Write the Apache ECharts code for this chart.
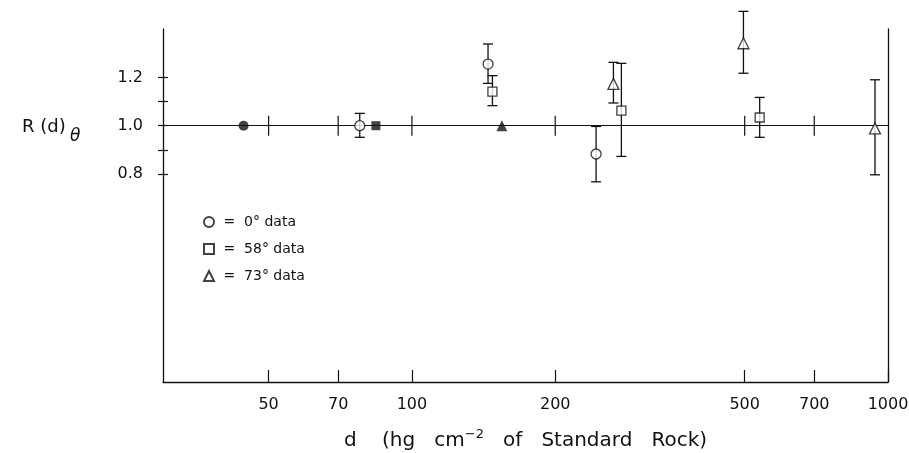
<!DOCTYPE html>
<html>
<head>
<meta charset="utf-8">
<script src="https://cdn.jsdelivr.net/npm/echarts@6/dist/echarts.min.js"></script>
<style>html,body{margin:0;background:#fff}#main{width:909px;height:453px}</style>
</head>
<body>
<div id="main"></div>
<script>
// open points with error bars: [d, R, low, high]
const data0 = [[77.7, 1.0, 0.952, 1.051], [144.5, 1.255, 1.175, 1.338], [243.7, 0.883, 0.768, 0.997]];
const data58 = [[147.6, 1.141, 1.083, 1.207], [275.4, 1.062, 0.873, 1.258], [537.6, 1.034, 0.952, 1.117]];
const data73 = [[265, 1.173, 1.094, 1.262], [497, 1.341, 1.217, 1.473], [939, 0.989, 0.797, 1.19]];
// filled points sitting on R = 1
const ref0 = [[44.3, 1.0]];
const ref58 = [[84, 1.0]];
const ref73 = [[154.5, 1.0]];
const xTicks = [50, 70, 100, 200, 500, 700, 1000];
const lineTicks = [50, 70, 100, 200, 500, 700];
const yTicks = [0.8, 0.9, 1.0, 1.1, 1.2];
const yLabels = [0.8, 1.0, 1.2];

const ink = '#111';
const font = 'DejaVu Sans';
const myChart = echarts.init(document.getElementById('main'));

function errorBar(params, api) {
  const x = api.value(0);
  const lo = api.coord([x, api.value(2)]);
  const hi = api.coord([x, api.value(3)]);
  const w = 5;
  const style = { stroke: ink, lineWidth: 1.3 };
  return {
    type: 'group',
    children: [
      { type: 'line', shape: { x1: lo[0], y1: lo[1], x2: hi[0], y2: hi[1] }, style: style },
      { type: 'line', shape: { x1: lo[0] - w, y1: lo[1], x2: lo[0] + w, y2: lo[1] }, style: style },
      { type: 'line', shape: { x1: hi[0] - w, y1: hi[1], x2: hi[0] + w, y2: hi[1] }, style: style }
    ]
  };
}

function crossTick(params, api) {
  const p = api.coord([api.value(0), api.value(1)]);
  return { type: 'line', shape: { x1: p[0], y1: p[1] - 10, x2: p[0], y2: p[1] + 10 }, style: { stroke: ink, lineWidth: 1.2 } };
}

function bars(d) {
  return { type: 'custom', renderItem: errorBar, data: d, clip: false, silent: true, z: 2 };
}
function open(name, symbol, size, d) {
  return {
    name: name, type: 'scatter', data: d.map(function (r) { return [r[0], r[1]]; }),
    symbol: symbol, symbolSize: size, silent: true, z: 5,
    itemStyle: { color: '#fff', borderColor: ink, borderWidth: 1.3 }
  };
}
function filled(symbol, size, d) {
  return { type: 'scatter', data: d, symbol: symbol, symbolSize: size, silent: true, z: 5, itemStyle: { color: ink } };
}

const yBase = { type: 'value', min: -0.06, max: 1.4, splitLine: { show: false } };

const option = {
  animation: false,
  grid: { left: 163, right: 21, top: 29, bottom: 71, containLabel: false, outerBoundsMode: 'none' },
  legend: {
    orient: 'vertical', left: 198, top: 210, itemGap: 13, itemWidth: 10, itemHeight: 10,
    data: ['0° data', '58° data', '73° data'],
    formatter: function (n) { return ' =  ' + n; },
    textStyle: { fontFamily: font, fontSize: 14, color: ink }
  },
  xAxis: {
    type: 'log', logBase: 10, min: 30, max: 1000,
    axisLine: { onZero: false, lineStyle: { color: ink, width: 1.3 } },
    axisTick: { inside: true, length: 12, customValues: xTicks, lineStyle: { color: ink, width: 1.2 } },
    axisLabel: { customValues: xTicks, margin: 15, fontFamily: font, fontSize: 16, color: ink,
      formatter: function (v) { return String(Math.round(v)); } },
    splitLine: { show: false },
    minorTick: { show: false },
    name: 'd    (hg   cm{sup|−2}   of   Standard   Rock)',
    nameLocation: 'middle', nameGap: 46,
    nameTextStyle: {
      fontFamily: font, fontSize: 20, color: ink,
      rich: { sup: { fontFamily: font, fontSize: 13, color: ink, padding: [0, 0, 12, 0] } }
    }
  },
  yAxis: [
    Object.assign({}, yBase, {
      position: 'left',
      axisLine: { show: true, lineStyle: { color: ink, width: 1.3 } },
      axisTick: { show: true, inside: false, length: 5, customValues: yTicks, lineStyle: { color: ink, width: 1.2 } },
      axisLabel: { customValues: yLabels, margin: 20, fontFamily: font, fontSize: 16, color: ink,
        formatter: function (v) { return v.toFixed(1); } }
    }),
    Object.assign({}, yBase, {
      position: 'left',
      axisLine: { show: false },
      axisTick: { show: true, inside: true, length: 5, customValues: yTicks, lineStyle: { color: ink, width: 1.2 } },
      axisLabel: { show: false }
    }),
    Object.assign({}, yBase, {
      position: 'right',
      axisLine: { show: true, lineStyle: { color: ink, width: 1.3 } },
      axisTick: { show: false },
      axisLabel: { show: false }
    })
  ],
  graphic: [
    { type: 'text', left: 22, top: 118, style: { text: 'R (d)', fontFamily: font, fontSize: 18, fill: ink } },
    { type: 'text', left: 70, top: 128, style: { text: 'θ', fontFamily: font, fontSize: 17, fontStyle: 'italic', fill: ink } }
  ],
  series: [
    {
      type: 'custom', renderItem: crossTick, data: lineTicks.map(function (v) { return [v, 1]; }),
      silent: true, z: 1,
      markLine: {
        silent: true, symbol: 'none', label: { show: false },
        lineStyle: { color: ink, width: 1.2, type: 'solid' },
        data: [{ yAxis: 1 }]
      }
    },
    bars(data0), bars(data58), bars(data73),
    open('0° data', 'circle', 10, data0),
    open('58° data', 'rect', 9, data58),
    open('73° data', 'triangle', 11, data73),
    filled('circle', 10, ref0),
    filled('rect', 9, ref58),
    filled('triangle', 11, ref73)
  ]
};
myChart.setOption(option);
</script>
</body>
</html>
